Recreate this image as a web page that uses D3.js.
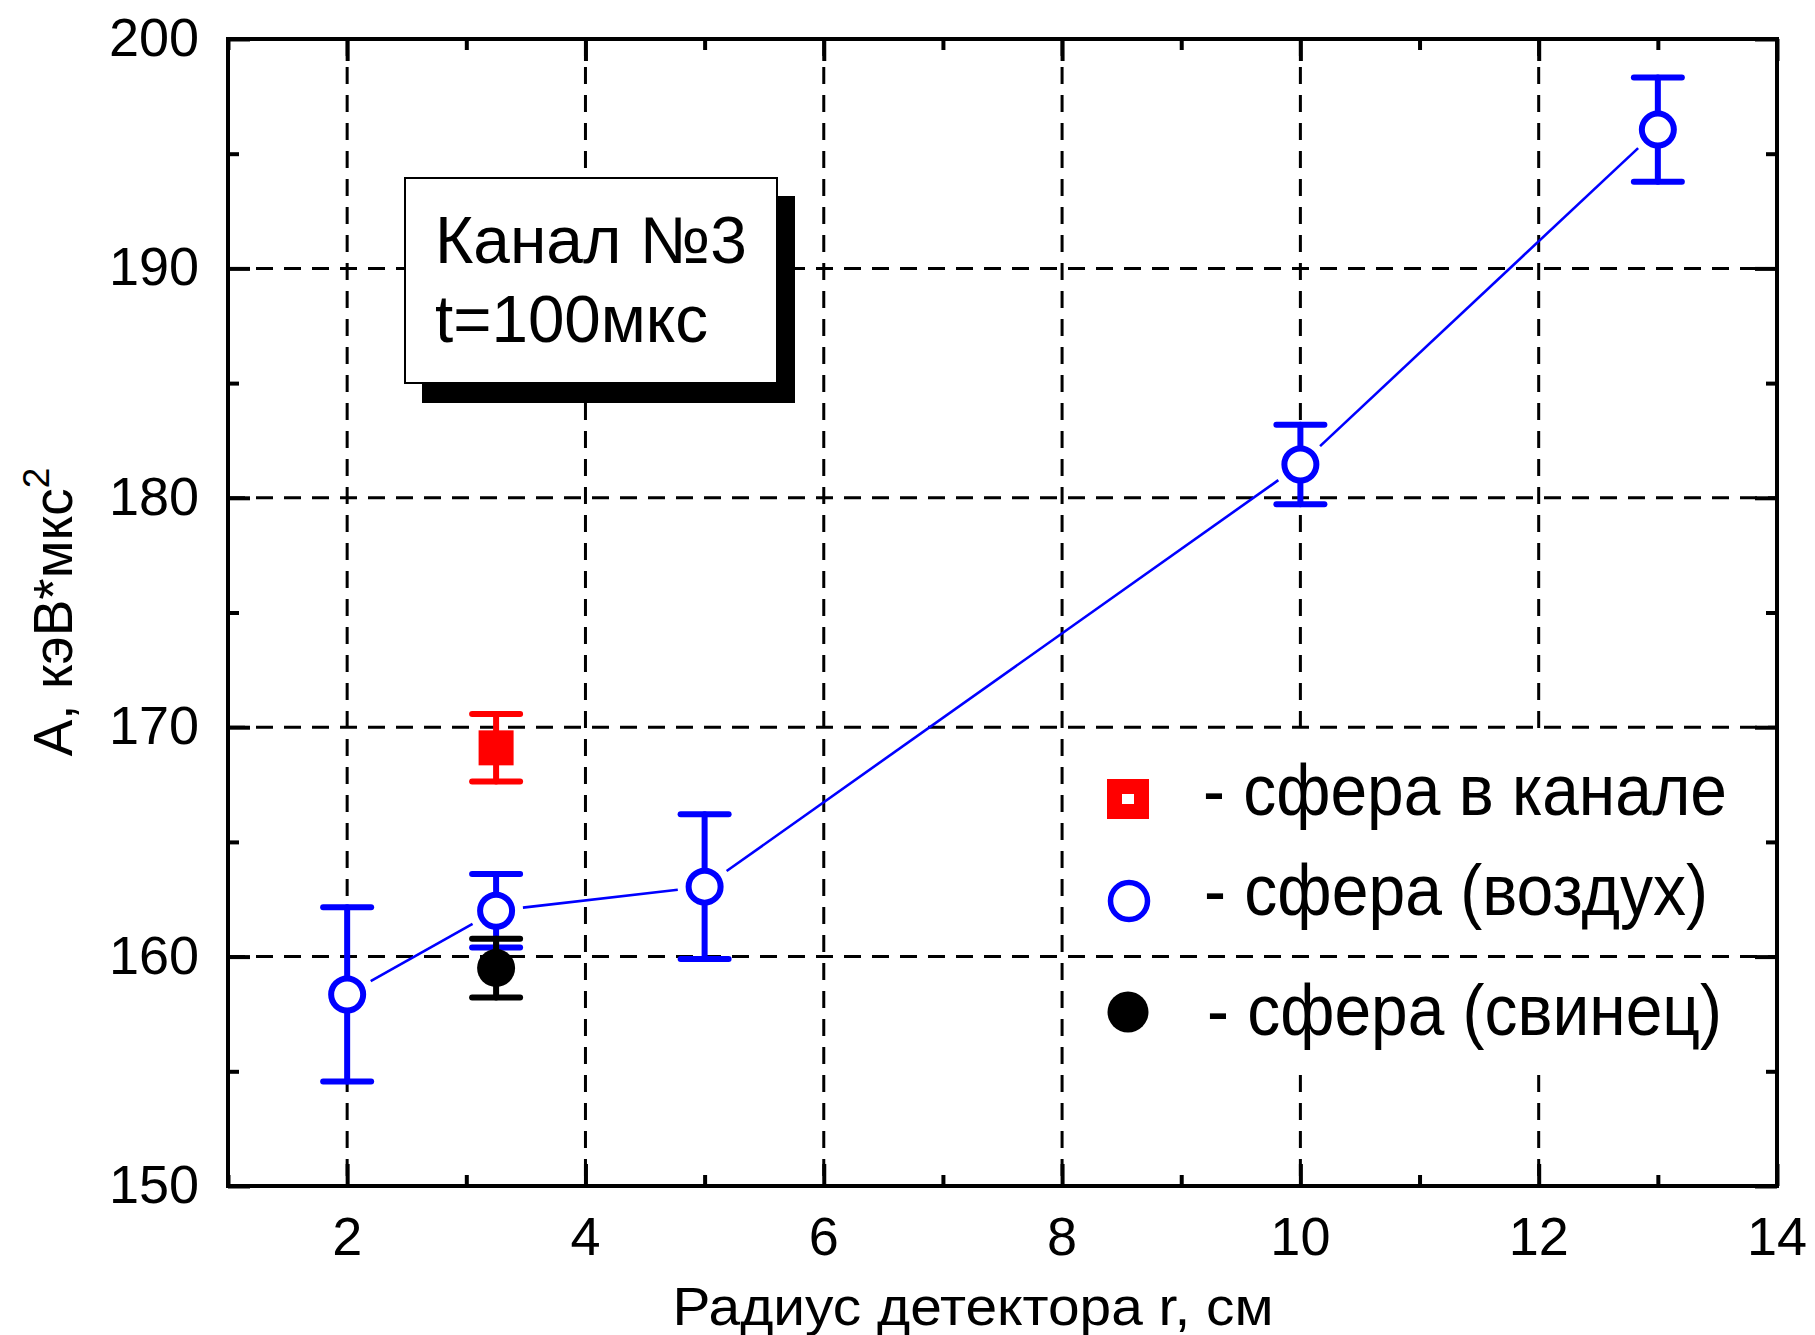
<!DOCTYPE html>
<html><head><meta charset="utf-8">
<script src="https://cdn.jsdelivr.net/npm/d3@7"></script>
<style>body{margin:0;background:#fff}svg{display:block}text{font-family:"Liberation Sans",Arial,sans-serif}</style>
</head><body>
<script>
// ---- data ----
const airX = [2, 3.25, 5, 10, 13];
const airY = [158.35, 162.0, 163.05,181.45, 196.05];
const airErr = [3.8, 1.6, 3.15, 1.73, 2.27];
const chanX = [3.25];
const chanY = [169.1];
const chanErr = [1.47];
const leadX = [3.25];
const leadY = [159.5];
const leadErr = [1.28];
const xTicks = [2, 4, 6, 8, 10, 12, 14];
const yTicks = [150, 160, 170, 180, 190, 200];
const xMinor = [1, 3, 5, 7, 9, 11, 13];
const yMinor = [155, 165, 175, 185, 195];
const legendLabels = ["- сфера в канале", "- сфера (воздух)", "- сфера (свинец)"];
const insetLines = ["Канал №3", "t=100мкс"];
const xTitle = "Радиус детектора r, см";
const yTitle = "A, кэВ*мкс";

const W = 1815, H = 1335;
const L = 228, R = 1777, T = 39, B = 1186;
const x = d3.scaleLinear().domain([1, 14]).range([L, R]);
const y = d3.scaleLinear().domain([150, 200]).range([B, T]);

const svg = d3.select("body").append("svg").attr("width", W).attr("height", H);

// vertical grid
const grid = svg.append("g").attr("stroke", "#000").attr("stroke-width", 3).attr("stroke-dasharray", "17,11");
grid.selectAll("line.v").data(xTicks.filter(d => d > 1 && d < 14)).join("line")
  .attr("x1", d => x(d)).attr("x2", d => x(d)).attr("y1", T).attr("y2", B);
// legend background hides vertical grid
svg.append("rect").attr("x", 1090).attr("y", 734).attr("width", 660).attr("height", 334).attr("fill", "#fff");
// horizontal grid
const gridH = svg.append("g").attr("stroke", "#000").attr("stroke-width", 3).attr("stroke-dasharray", "17,11");
gridH.selectAll("line").data(yTicks.filter(d => d > 150 && d < 200)).join("line")
  .attr("y1", d => y(d)).attr("y2", d => y(d)).attr("x1", L).attr("x2", R);

// inset box
svg.append("rect").attr("x", 422).attr("y", 196).attr("width", 373).attr("height", 207).attr("fill", "#000");
svg.append("rect").attr("x", 405).attr("y", 178).attr("width", 372).attr("height", 205)
  .attr("fill", "#fff").attr("stroke", "#000").attr("stroke-width", 2);
svg.selectAll("text.inset").data(insetLines).join("text").attr("class", "inset")
  .attr("x", 435).attr("y", (d, i) => 263 + i * 79)
  .attr("font-size", 66).attr("textLength", (d, i) => [312, 273][i]).attr("lengthAdjust", "spacingAndGlyphs")
  .text(d => d);

// axes frame with ticks
const axStroke = 4;
function addAxis(axis, transform) {
  const g = svg.append("g").attr("transform", transform).call(axis);
  g.select(".domain").remove();
  g.selectAll("line").attr("stroke", "#000").attr("stroke-width", axStroke);
  return g;
}
addAxis(d3.axisBottom(x).tickValues(xTicks).tickSize(-22).tickFormat(""), `translate(0,${B})`);
addAxis(d3.axisBottom(x).tickValues(xMinor).tickSize(-11).tickFormat(""), `translate(0,${B})`);
addAxis(d3.axisTop(x).tickValues(xTicks).tickSize(-22).tickFormat(""), `translate(0,${T})`);
addAxis(d3.axisTop(x).tickValues(xMinor).tickSize(-11).tickFormat(""), `translate(0,${T})`);
addAxis(d3.axisLeft(y).tickValues(yTicks).tickSize(-22).tickFormat(""), `translate(${L},0)`);
addAxis(d3.axisLeft(y).tickValues(yMinor).tickSize(-11).tickFormat(""), `translate(${L},0)`);
addAxis(d3.axisRight(y).tickValues(yTicks).tickSize(-22).tickFormat(""), `translate(${R},0)`);
addAxis(d3.axisRight(y).tickValues(yMinor).tickSize(-11).tickFormat(""), `translate(${R},0)`);
svg.append("rect").attr("x", L).attr("y", T).attr("width", R - L).attr("height", B - T)
  .attr("fill", "none").attr("stroke", "#000").attr("stroke-width", axStroke);

// tick labels
svg.selectAll("text.xt").data(xTicks).join("text").attr("class", "xt")
  .attr("x", d => x(d)).attr("y", 1255).attr("text-anchor", "middle").attr("font-size", 54).text(d => d);
svg.selectAll("text.yt").data(yTicks).join("text").attr("class", "yt")
  .attr("x", 199).attr("y", d => y(d) + 17).attr("text-anchor", "end").attr("font-size", 54).text(d => d);

// axis titles
svg.append("text").attr("x", 973).attr("y", 1325).attr("text-anchor", "middle").attr("font-size", 54)
  .attr("textLength", 601).attr("lengthAdjust", "spacingAndGlyphs").text(xTitle);
const yt = svg.append("text").attr("transform", "translate(72,612) rotate(-90)").attr("text-anchor", "middle").attr("font-size", 55);
yt.append("tspan").text(yTitle);
yt.append("tspan").attr("dy", -23).attr("font-size", 37).text("2");

// error bars
const capW = 24;
function errBars(xs, ys, es, color) {
  const g = svg.append("g").attr("stroke", color).attr("stroke-width", 6).attr("stroke-linecap", "round");
  xs.forEach((xv, i) => {
    const cx = x(xv), y1 = y(ys[i] + es[i]), y2 = y(ys[i] - es[i]);
    g.append("line").attr("x1", cx).attr("x2", cx).attr("y1", y1).attr("y2", y2);
    g.append("line").attr("x1", cx - capW).attr("x2", cx + capW).attr("y1", y1).attr("y2", y1);
    g.append("line").attr("x1", cx - capW).attr("x2", cx + capW).attr("y1", y2).attr("y2", y2);
  });
}

// connecting line segments, shortened near markers
const gap = 27;
const segG = svg.append("g").attr("stroke", "#0000ff").attr("stroke-width", 2.6);
for (let i = 0; i < airX.length - 1; i++) {
  const x1 = x(airX[i]), y1 = y(airY[i]), x2 = x(airX[i + 1]), y2 = y(airY[i + 1]);
  const len = Math.hypot(x2 - x1, y2 - y1), ux = (x2 - x1) / len, uy = (y2 - y1) / len;
  segG.append("line").attr("x1", x1 + ux * gap).attr("y1", y1 + uy * gap)
    .attr("x2", x2 - ux * gap).attr("y2", y2 - uy * gap);
}

errBars(airX, airY, airErr, "#0000ff");
errBars(leadX, leadY, leadErr, "#000");
errBars(chanX, chanY, chanErr, "#ff0000");

svg.selectAll("circle.air").data(airX).join("circle").attr("class", "air")
  .attr("cx", d => x(d)).attr("cy", (d, i) => y(airY[i])).attr("r", 16)
  .attr("fill", "#fff").attr("stroke", "#0000ff").attr("stroke-width", 6);
svg.selectAll("circle.lead").data(leadX).join("circle").attr("class", "lead")
  .attr("cx", d => x(d)).attr("cy", (d, i) => y(leadY[i])).attr("r", 19).attr("fill", "#000");
svg.selectAll("rect.chan").data(chanX).join("rect").attr("class", "chan")
  .attr("x", d => x(d) - 17.5).attr("y", (d, i) => y(chanY[i]) - 17.5).attr("width", 35).attr("height", 35)
  .attr("fill", "#ff0000");

// legend
const lg = svg.append("g");
lg.append("rect").attr("x", 1107).attr("y", 779).attr("width", 42).attr("height", 40).attr("fill", "#ff0000");
lg.append("rect").attr("x", 1122).attr("y", 794).attr("width", 12).attr("height", 10).attr("fill", "#fff");
lg.append("circle").attr("cx", 1129).attr("cy", 901).attr("r", 18.5).attr("fill", "none").attr("stroke", "#0000ff").attr("stroke-width", 5.5);
lg.append("circle").attr("cx", 1128).attr("cy", 1012).attr("r", 20.5).attr("fill", "#000");
const lgX = [1203, 1204, 1207], lgY = [815, 915, 1035], lgW = [524, 504, 515];
lg.selectAll("text").data(legendLabels).join("text")
  .attr("x", (d, i) => lgX[i]).attr("y", (d, i) => lgY[i]).attr("font-size", 72)
  .attr("textLength", (d, i) => lgW[i]).attr("lengthAdjust", "spacingAndGlyphs").text(d => d);
</script>
</body></html>
